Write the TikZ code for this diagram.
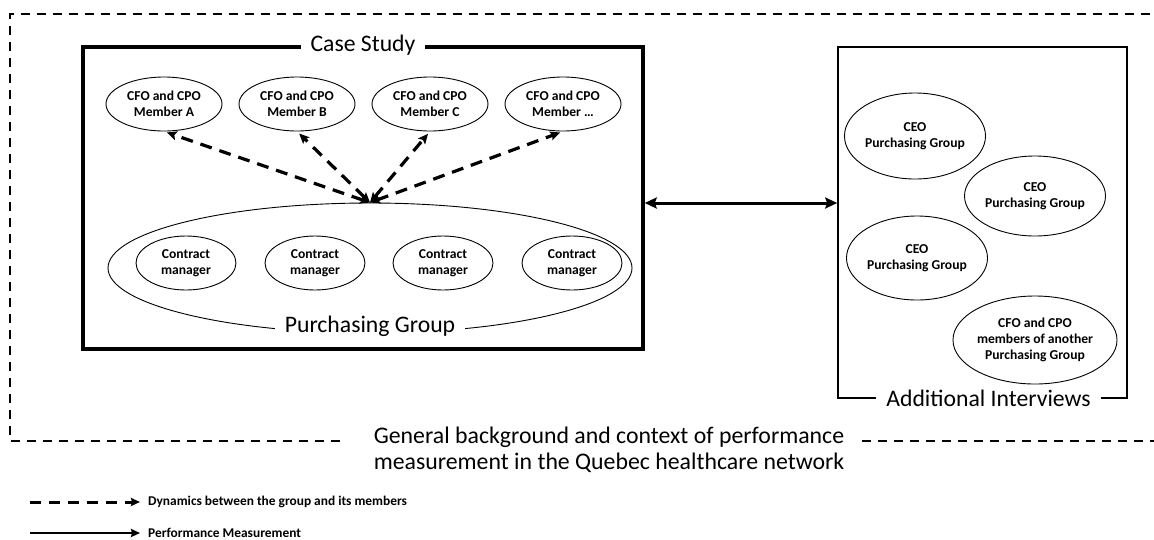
\documentclass[tikz,border=0pt]{standalone}
\usepackage{fontspec}
\setmainfont{Carlito}
\usetikzlibrary{shapes.geometric,arrows.meta,positioning}

\tikzset{
  member/.style = {ellipse, draw, line width = 0.9pt, inner sep = 0pt, minimum width = 116pt, minimum height = 54pt, align = center, font = \fontsize{13.6}{16}\selectfont\bfseries},
  manager/.style = {member, minimum width = 100pt},
  ceo/.style = {member, minimum width = 128pt, minimum height = 84pt},
  boxtitle/.style = {fill = white, inner xsep = 10pt, inner ysep = 2pt, font = \fontsize{23.7}{26.5}\selectfont},
  legendtext/.style = {anchor = west, inner sep = 0pt, font = \fontsize{13.4}{16}\selectfont\bfseries},
  dyn/.style = {line width = 3.2pt, dash pattern = on 12pt off 8pt, {Stealth[length = 10pt, width = 9pt, inset = 2pt]}-{Stealth[length = 10pt, width = 9pt, inset = 2pt]}},
  perf/.style = {line width = 3pt, {Stealth[length = 12pt, width = 11pt, inset = 2pt]}-{Stealth[length = 12pt, width = 11pt, inset = 2pt]}},
}

\begin{document}
\begin{tikzpicture}[x = 1pt, y = -1pt]
\useasboundingbox (0,0) rectangle (1154,539);

% general context frame
\draw[line width = 1.3pt, dash pattern = on 9pt off 7pt] (340,441) -- (10,441) -- (10,14) -- (1170,14);
\draw[line width = 1.3pt, dash pattern = on 9pt off 7pt] (862,441) -- (1170,441);
\node[align = center, font = \fontsize{23.8}{26.5}\selectfont] (gb) at (609,450) {General background and context of performance\\measurement in the Quebec healthcare network};

% case study
\node[draw, line width = 3.5pt, minimum width = 560pt, minimum height = 302pt] (cs) at (363,198) {};
\node[boxtitle] (cst) at (cs.north) {Case Study};

\node[member] (m1) at (164,104) {CFO and CPO\\Member A};
\node[member] (m2) at (297,104) {CFO and CPO\\Member B};
\node[member] (m3) at (430,104) {CFO and CPO\\Member C};
\node[member] (m4) at (563,104) {CFO and CPO\\Member \dots};

\node[ellipse, draw, line width = 0.9pt, minimum width = 524pt, minimum height = 130pt] (pg) at (370,268) {};
\node[boxtitle] (pgt) at ([yshift = 7pt]pg.south) {Purchasing Group};

\node[manager] (c1) at (186,263) {Contract\\manager};
\node[manager] (c2) at (315,263) {Contract\\manager};
\node[manager] (c3) at (443,263) {Contract\\manager};
\node[manager] (c4) at (572,263) {Contract\\manager};

\foreach \m in {m1,m2,m3,m4}
  \draw[dyn, shorten > = 3pt] (pg.north) -- (\m.south);

% additional interviews
\node[draw, line width = 1.6pt, minimum width = 289pt, minimum height = 351pt] (ai) at (982.5,222.5) {};
\node[boxtitle] (ait) at ([xshift = 6pt]ai.south) {Additional Interviews};

\node[ceo, minimum width = 126pt, minimum height = 86pt] (e1) at (915,136) {CEO\\Purchasing Group};
\node[ceo, minimum width = 124pt, minimum height = 80pt] (e2) at (1035,196) {CEO\\Purchasing Group};
\node[ceo, minimum width = 134pt] (e3) at (917,258) {CEO\\Purchasing Group};
\node[ceo, minimum width = 126pt, minimum height = 88pt] (e4) at (1035,340) {CFO and CPO\\members of another\\Purchasing Group};

\draw[perf] ([yshift = -5pt]cs.east) -- ([yshift = -5pt]cs.east -| ai.west);

% legend
\node[legendtext] (l1) at (148,502) {Dynamics between the group and its members};
\node[legendtext] (l2) at (148,533) {Performance Measurement};
\coordinate (d1) at (30,502);
\coordinate (d2) at (30,533);
\draw[line width = 3pt, dash pattern = on 11pt off 8pt, -{Stealth[length = 9pt, width = 8pt, inset = 1pt]}] (d1) -- ([xshift = -8pt]l1.west);
\draw[line width = 2.5pt, -{Stealth[length = 9pt, width = 8pt, inset = 1pt]}] (d2) -- ([xshift = -8pt]l2.west);
\end{tikzpicture}
\end{document}
